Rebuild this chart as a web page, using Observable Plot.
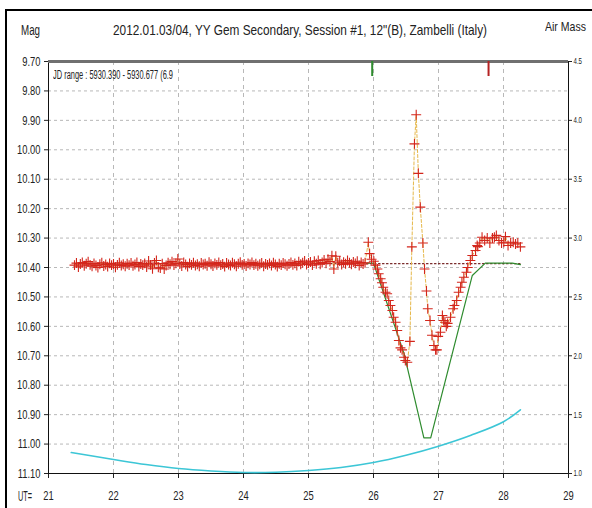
<!DOCTYPE html>
<html><head><meta charset="utf-8">
<script src="https://cdn.jsdelivr.net/npm/d3@7"></script>
<script src="https://cdn.jsdelivr.net/npm/@observablehq/plot@0.6"></script>
<style>
body{margin:0;background:#fff;}
#wrap{position:relative;width:592px;height:508px;overflow:hidden;background:#fff;font-family:"Liberation Sans",Arial,sans-serif;color:#222;}
#frame{position:absolute;left:5px;top:9px;width:620px;height:540px;border-left:2px solid #000;border-top:2px solid #000;}
#chart{position:absolute;left:0;top:0;}
.t{position:absolute;white-space:nowrap;line-height:1;transform-origin:left center;}
#mag{left:21px;top:23px;font-size:14px;}
#title{left:113px;top:22px;font-size:15px;}
#am{left:545px;top:20px;font-size:13px;}
#jd{left:53px;top:69px;font-size:12px;}
#ut{left:18px;top:489px;font-size:14px;}
</style></head><body>
<div id="wrap">
  <div id="frame"></div>
  <div id="chart"></div>
  <div class="t" id="mag">Mag</div>
  <div class="t" id="title">2012.01.03/04, YY Gem Secondary, Session #1, 12"(B), Zambelli (Italy)</div>
  <div class="t" id="am">Air Mass</div>
  <div class="t" id="jd">JD range : 5930.390 - 5930.677 (6.9</div>
  <div class="t" id="ut">UT=</div>
</div>
<script>
// ---- tick labels ----
const magTicks = [9.70, 9.80, 9.90, 10.00, 10.10, 10.20, 10.30, 10.40, 10.50, 10.60, 10.70, 10.80, 10.90, 11.00, 11.10];
const utTicks = [21, 22, 23, 24, 25, 26, 27, 28, 29];
const amTicks = [1.0, 1.5, 2.0, 2.5, 3.0, 3.5, 4.0, 4.5];

// ---- observations (UT hours, magnitude) ----
const obsUT = [
 21.40,21.43,21.46,21.49,21.52,21.55,21.58,21.61,21.64,21.67,
 21.70,21.73,21.76,21.79,21.82,21.85,21.88,21.91,21.94,21.97,
 22.00,22.03,22.06,22.09,22.12,22.15,22.18,22.21,22.24,22.27,
 22.30,22.33,22.36,22.39,22.42,22.45,22.48,22.51,22.54,22.57,
 22.60,22.63,22.66,22.69,22.72,22.75,22.78,22.81,22.84,22.87,
 22.90,22.93,22.96,22.99,23.02,23.05,23.08,23.11,23.14,23.17,
 23.20,23.23,23.26,23.29,23.32,23.35,23.38,23.41,23.44,23.47,
 23.50,23.53,23.56,23.59,23.62,23.65,23.68,23.71,23.74,23.77,
 23.80,23.83,23.86,23.89,23.92,23.95,23.98,24.01,24.04,24.07,
 24.10,24.13,24.16,24.19,24.22,24.25,24.28,24.31,24.34,24.37,
 24.40,24.43,24.46,24.49,24.52,24.55,24.58,24.61,24.64,24.67,
 24.70,24.73,24.76,24.79,24.82,24.85,24.88,24.91,24.94,24.97,
 25.00,25.03,25.06,25.09,25.12,25.15,25.18,25.21,25.24,25.27,
 25.30,25.33,25.36,25.39,25.42,25.45,25.48,25.51,25.54,25.57,
 25.60,25.63,25.66,25.69,25.72,25.75,25.78,25.81,25.84,25.87,
 25.92,25.94,25.97,26.005,26.03,26.06,26.08,26.11,26.13,26.15,
 26.185,26.21,26.235,26.26,26.29,26.31,26.34,26.365,26.39,26.415,
 26.44,26.47,26.49,26.52,26.56,26.59,26.63,26.657,26.69,26.72,
 26.76,26.785,26.815,26.835,26.87,26.90,26.93,26.955,26.975,26.995,
 27.03,27.06,27.08,27.10,27.12,27.14,27.185,27.225,27.245,27.28,
 27.31,27.34,27.36,27.39,27.43,27.45,27.49,27.52,27.57,27.595,
 27.605,27.635,27.67,27.71,27.75,27.79,27.83,27.86,27.89,27.93,
 27.97,28.005,28.03,28.07,28.11,28.15,28.185,28.22,28.26
];
const obsMag = [
 10.392,10.385,10.398,10.388,10.383,10.394,10.387,10.380,10.391,10.396,
 10.386,10.393,10.400,10.389,10.384,10.395,10.390,10.397,10.386,10.392,
 10.388,10.399,10.391,10.384,10.393,10.389,10.396,10.387,10.392,10.385,
 10.394,10.390,10.383,10.397,10.388,10.392,10.386,10.398,10.378,10.391,
 10.404,10.385,10.376,10.399,10.402,10.387,10.405,10.393,10.384,10.389,
 10.380,10.392,10.386,10.371,10.388,10.395,10.383,10.390,10.397,10.386,
 10.391,10.384,10.393,10.389,10.396,10.385,10.390,10.387,10.394,10.382,
 10.389,10.395,10.386,10.391,10.383,10.392,10.388,10.397,10.385,10.390,
 10.393,10.384,10.389,10.396,10.387,10.382,10.391,10.388,10.395,10.386,
 10.390,10.383,10.392,10.387,10.394,10.389,10.385,10.396,10.388,10.391,
 10.386,10.393,10.384,10.390,10.397,10.387,10.392,10.385,10.389,10.394,
 10.388,10.383,10.391,10.386,10.393,10.380,10.389,10.384,10.378,10.390,
 10.385,10.381,10.392,10.379,10.387,10.376,10.389,10.383,10.374,10.386,
 10.372,10.380,10.360,10.405,10.362,10.384,10.378,10.390,10.382,10.387,
 10.376,10.384,10.389,10.381,10.386,10.379,10.393,10.383,10.388,10.384,
 10.314,10.353,10.372,10.379,10.392,10.405,10.421,10.438,10.452,10.467,
 10.484,10.489,10.512,10.529,10.546,10.569,10.586,10.614,10.648,10.673,
 10.680,10.705,10.716,10.722,10.651,10.330,9.980,9.881,10.080,10.195,
 10.317,10.405,10.480,10.540,10.580,10.630,10.665,10.680,10.680,10.634,
 10.620,10.563,10.580,10.586,10.600,10.590,10.569,10.540,10.529,10.512,
 10.484,10.467,10.450,10.433,10.416,10.400,10.376,10.359,10.342,10.325,
 10.329,10.317,10.297,10.308,10.300,10.317,10.300,10.297,10.291,10.308,
 10.317,10.314,10.295,10.325,10.317,10.314,10.320,10.317,10.330
];

// ---- model light curve (green) ----
const modelUT  = [25.90, 26.00, 26.47, 26.775, 26.88, 27.52, 27.72, 28.135, 28.26];
const modelMag = [10.385, 10.385, 10.693, 10.979, 10.979, 10.427, 10.385, 10.385, 10.390];

// ---- mean out-of-eclipse level (dotted) ----
const levelUT  = [21.40, 28.26];
const levelMag = [10.387, 10.387];

// ---- air mass (right axis) ----
const amUT  = [21.35, 22.0, 22.5, 23.0, 23.5, 24.0, 24.5, 25.0, 25.5, 26.0, 26.5, 27.0, 27.5, 28.0, 28.26];
const amVal = [1.178, 1.119, 1.076, 1.042, 1.021, 1.008, 1.010, 1.025, 1.051, 1.093, 1.155, 1.232, 1.325, 1.440, 1.541];

// ---- top markers ----
const markUT = [25.98, 27.77];
const markColor = ["#2e8b2e", "#b52222"];

// build tables
const obs = obsUT.map((u, i) => ({ut: u, mag: obsMag[i]}));
const model = modelUT.map((u, i) => ({ut: u, mag: modelMag[i]}));
const level = levelUT.map((u, i) => ({ut: u, mag: levelMag[i]}));
const am2mag = d3.scaleLinear().domain([1.0, 4.5]).range([11.1, 9.7]);
const air = amUT.map((u, i) => ({ut: u, mag: am2mag(amVal[i])}));
const marks = markUT.map((u, i) => ({ut: u, c: markColor[i]}));

const font = '"Liberation Sans",Arial,sans-serif';

const chart = Plot.plot({
  width: 592, height: 508,
  marginTop: 61, marginBottom: 35, marginLeft: 48, marginRight: 24,
  x: {domain: [21, 29]},
  y: {domain: [9.7, 11.1], reverse: true},
  style: {fontFamily: font, fontSize: "13px", color: "#222", background: "transparent"},
  marks: [
    Plot.gridY(magTicks.slice(1, -1), {stroke: "#b8b8b8", strokeOpacity: 1, strokeDasharray: "3,3"}),
    Plot.gridX(utTicks.slice(1, -1), {stroke: "#b8b8b8", strokeOpacity: 1, strokeDasharray: "4,4"}),
    Plot.axisY(magTicks, {anchor: "left", tickFormat: d3.format(".2f"), tickSize: 4, tickPadding: 4, fontSize: 13, label: null}),
    Plot.axisY(amTicks.map(am2mag), {anchor: "right", tickFormat: d => d3.format(".1f")(am2mag.invert(d)), tickSize: 3, tickPadding: 2, fontSize: 9, label: null}),
    Plot.axisX(utTicks, {anchor: "bottom", tickSize: 5, tickPadding: 12, fontSize: 13, label: null, tickFormat: d => String(d)}),
    Plot.ruleX([21], {stroke: "#111"}),
    Plot.ruleX([29], {stroke: "#111"}),
    Plot.ruleY([11.1], {stroke: "#111", strokeWidth: 1.2}),
    Plot.ruleY([9.7], {stroke: "#707070", strokeWidth: 3}),
    Plot.line(air, {x: "ut", y: "mag", stroke: "#3cc6d6", strokeWidth: 1.6, curve: "catmull-rom"}),
    Plot.line(level, {x: "ut", y: "mag", stroke: "#7a2a2a", strokeWidth: 1.2, strokeDasharray: "1.5,2.5"}),
    Plot.line(model, {x: "ut", y: "mag", stroke: "#2e8b2e", strokeWidth: 1.2}),
    Plot.line(obs, {x: "ut", y: "mag", stroke: "#e6b84a", strokeWidth: 1, strokeDasharray: "3,2"}),
    Plot.dot(obs, {x: "ut", y: "mag", symbol: "plus", r: 3.3, stroke: "#d3261c", strokeWidth: 1.1}),
    Plot.ruleX(marks, {x: "ut", y1: 9.7, y2: 9.751, stroke: "c", strokeWidth: 2})
  ]
});
document.getElementById("chart").appendChild(chart);

// condense text (the reference uses a narrow face)
chart.querySelectorAll("text").forEach(t => {
  const isAm = /^\d\.\d$/.test(t.textContent.trim());
  const f = isAm ? 0.68 : 0.72;
  const w = t.getComputedTextLength();
  if (w > 0) { t.setAttribute("textLength", (w * f).toFixed(2)); t.setAttribute("lengthAdjust", "spacingAndGlyphs"); }
});
const fit = (id, w) => {
  const el = document.getElementById(id);
  const cur = el.getBoundingClientRect().width;
  el.style.transform = `scaleX(${w / cur})`;
};
fit("mag", 19); fit("title", 374); fit("am", 41); fit("jd", 120); fit("ut", 14);
</script>
</body></html>
